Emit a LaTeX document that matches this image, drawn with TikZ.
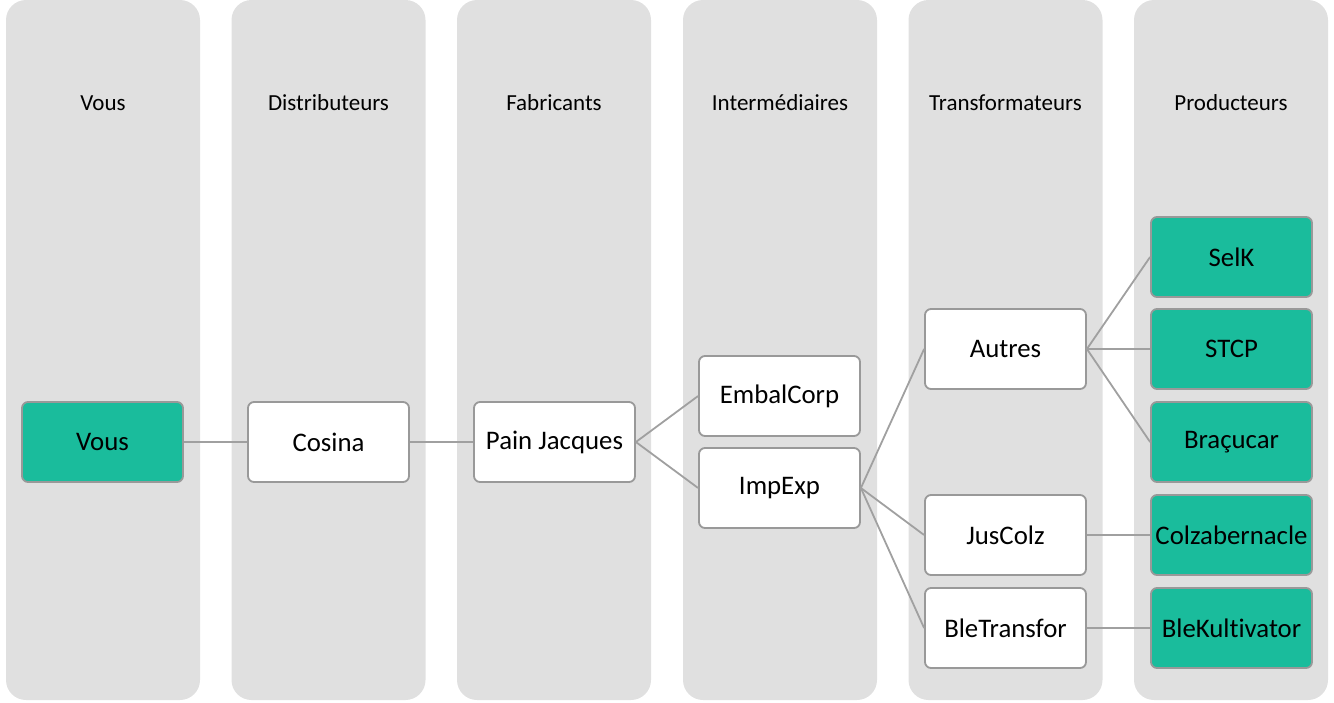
\documentclass[tikz,border=0pt]{standalone}
\usepackage{fontspec}
\setmainfont[Ligatures=NoCommon]{Carlito}
\definecolor{colbg}{HTML}{E0E0E0}
\definecolor{edgegray}{HTML}{A0A0A0}
\definecolor{bordgray}{HTML}{999999}
\definecolor{teal}{HTML}{1ABC9C}
\tikzset{
  column/.style={fill=colbg, draw=none, rounded corners=20pt},
  header/.style={font=\fontsize{23}{27}\selectfont, text=black},
  box/.style={draw=bordgray, line width=1.8pt, rounded corners=6pt, fill=white,
    minimum width=161pt, minimum height=80pt, inner sep=0pt,
    font=\fontsize{26.8}{31}\selectfont, text=black},
  leaf/.style={box, fill=teal},
  edge/.style={draw=edgegray, line width=1.8pt}
}
\begin{document}
\begin{tikzpicture}[x=1pt,y=-1pt]
\useasboundingbox (0,0) rectangle (1334,702);
% columns
\foreach \cx/\t [count=\i] in {103/Vous,328.5/Distributeurs,554/Fabricants,780/Intermédiaires,1005.5/Transformateurs,1231/Producteurs}{
  \fill[column] (\cx-97,0) rectangle (\cx+97,700);
  \node[header] (h\i) at (\cx,103) {\t};
}
% nodes
\node[leaf] (vous) at (102.5,442) {Vous};
\node[box] (cosina) at (328.5,442) {Cosina};
\node[box] (pain) at (554.5,442) {Pain Jacques};
\node[box] (embal) at (779.5,396) {EmbalCorp};
\node[box] (impexp) at (779.5,488) {ImpExp};
\node[box] (autres) at (1005.5,349) {Autres};
\node[box] (juscolz) at (1005.5,535) {JusColz};
\node[box] (bletrans) at (1005.5,628) {BleTransfor};
\node[leaf] (selk) at (1231.5,257) {SelK};
\node[leaf] (stcp) at (1231.5,349) {STCP};
\node[leaf] (bracucar) at (1231.5,442) {Braçucar};
\node[leaf] (colza) at (1231.5,535) {Colzabernacle};
\node[leaf] (blek) at (1231.5,628) {BleKultivator};
% edges
\draw[edge] (vous.east) -- (cosina.west);
\draw[edge] (cosina.east) -- (pain.west);
\draw[edge] (pain.east) -- (embal.west);
\draw[edge] (pain.east) -- (impexp.west);
\draw[edge] (impexp.east) -- (autres.west);
\draw[edge] (impexp.east) -- (juscolz.west);
\draw[edge] (impexp.east) -- (bletrans.west);
\draw[edge] (autres.east) -- (selk.west);
\draw[edge] (autres.east) -- (stcp.west);
\draw[edge] (autres.east) -- (bracucar.west);
\draw[edge] (juscolz.east) -- (colza.west);
\draw[edge] (bletrans.east) -- (blek.west);
\end{tikzpicture}
\end{document}
